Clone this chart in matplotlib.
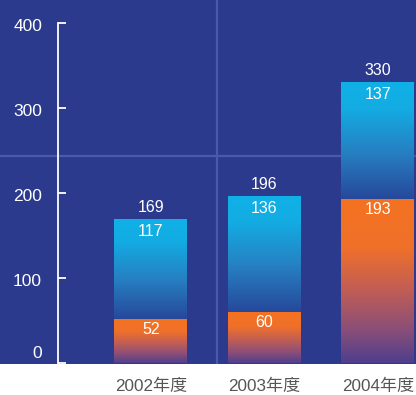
import numpy as np
import matplotlib
matplotlib.use("Agg")
import matplotlib.pyplot as plt
from matplotlib.colors import LinearSegmentedColormap
from matplotlib.transforms import ScaledTranslation

years = ["2002年度", "2003年度", "2004年度"]
lower_vals = [52, 60, 193]
upper_vals = [117, 136, 137]
yticks = [0, 100, 200, 300, 400]

BG = "#2c3a8e"
fig = plt.figure(figsize=(4.16, 3.95), dpi=100, facecolor="white")
ax = fig.add_axes([0, 31 / 395, 1, 364 / 395])
ax.set_facecolor(BG)

x = np.arange(len(years))
w = 0.643
totals = [a + b for a, b in zip(lower_vals, upper_vals)]

orange_cmap = LinearSegmentedColormap.from_list(
    "org", [(0, "#f47321"), (0.3, "#f0702a"), (0.55, "#c25e54"), (0.8, "#8a4e78"), (1.0, "#4e3f8e")])
blue_cmap = LinearSegmentedColormap.from_list(
    "blu", [(0, "#10b1e7"), (0.22, "#13ace3"), (0.6, "#2680c2"), (1.0, "#27489b")])

grad = np.linspace(0, 1, 256).reshape(-1, 1)

b1 = ax.bar(x, lower_vals, width=w, color="none", edgecolor="none", zorder=3)
b2 = ax.bar(x, upper_vals, width=w, bottom=lower_vals, color="none", edgecolor="none", zorder=3)

for bars, cmap in ((b1, orange_cmap), (b2, blue_cmap)):
    for p in bars:
        x0, y0 = p.get_x(), p.get_y()
        x1, y1 = x0 + p.get_width(), y0 + p.get_height()
        im = ax.imshow(grad, cmap=cmap, aspect="auto", extent=(x0, x1, y0, y1),
                       origin="upper", zorder=2, interpolation="bicubic")
        im.set_clip_path(p)

# labels
for i in range(len(years)):
    ax.annotate(str(totals[i]), (x[i], totals[i]), xytext=(0, 12), textcoords="offset pixels",
                ha="center", va="center", color="white", fontsize=11.5, family="Liberation Sans", zorder=5)
    ax.annotate(str(upper_vals[i]), (x[i], totals[i]), xytext=(0, -12), textcoords="offset pixels",
                ha="center", va="center", color="white", fontsize=11.5, family="Liberation Sans", zorder=5)
    ax.annotate(str(lower_vals[i]), (x[i], lower_vals[i]), xytext=(0, -11), textcoords="offset pixels",
                ha="center", va="center", color="white", fontsize=11.5, family="Liberation Sans", zorder=5)

ax.set_xlim(-1.330, 2.335)
ax.set_ylim(-1.2, 427)

# crosshair decoration
ax.axvline(0.5815, color="#4b59aa", lw=1.6, zorder=1)
ax.axhline(243.5, color="#4b59aa", lw=1.6, zorder=1)

for s in ["top", "right", "bottom"]:
    ax.spines[s].set_visible(False)
sp = ax.spines["left"]
sp.set_position(("data", -0.819))
sp.set_bounds(0, 400)
sp.set_color("white")
sp.set_linewidth(1.3)

ax.set_yticks(yticks)
ax.set_yticklabels([str(v) for v in yticks])
ax.tick_params(axis="y", direction="in", length=5.5, width=1.3, color="white",
               labelcolor="white", labelsize=12.5, pad=11.5)
for lbl in ax.get_yticklabels():
    lbl.set_family("Liberation Sans")
    dy = -2 / 100
    if lbl.get_text() == "0":
        dy = 11 / 100
    lbl.set_transform(lbl.get_transform() + ScaledTranslation(0, dy, fig.dpi_scale_trans))

ax.set_xticks(x)
ax.set_xticklabels(years)
ax.tick_params(axis="x", length=0, pad=10.5, labelsize=12.3, labelcolor="#555555")
for lbl in ax.get_xticklabels():
    lbl.set_family(["Liberation Sans", "Noto Sans CJK JP"])

fig.savefig("out.png", dpi=100, facecolor="white")
